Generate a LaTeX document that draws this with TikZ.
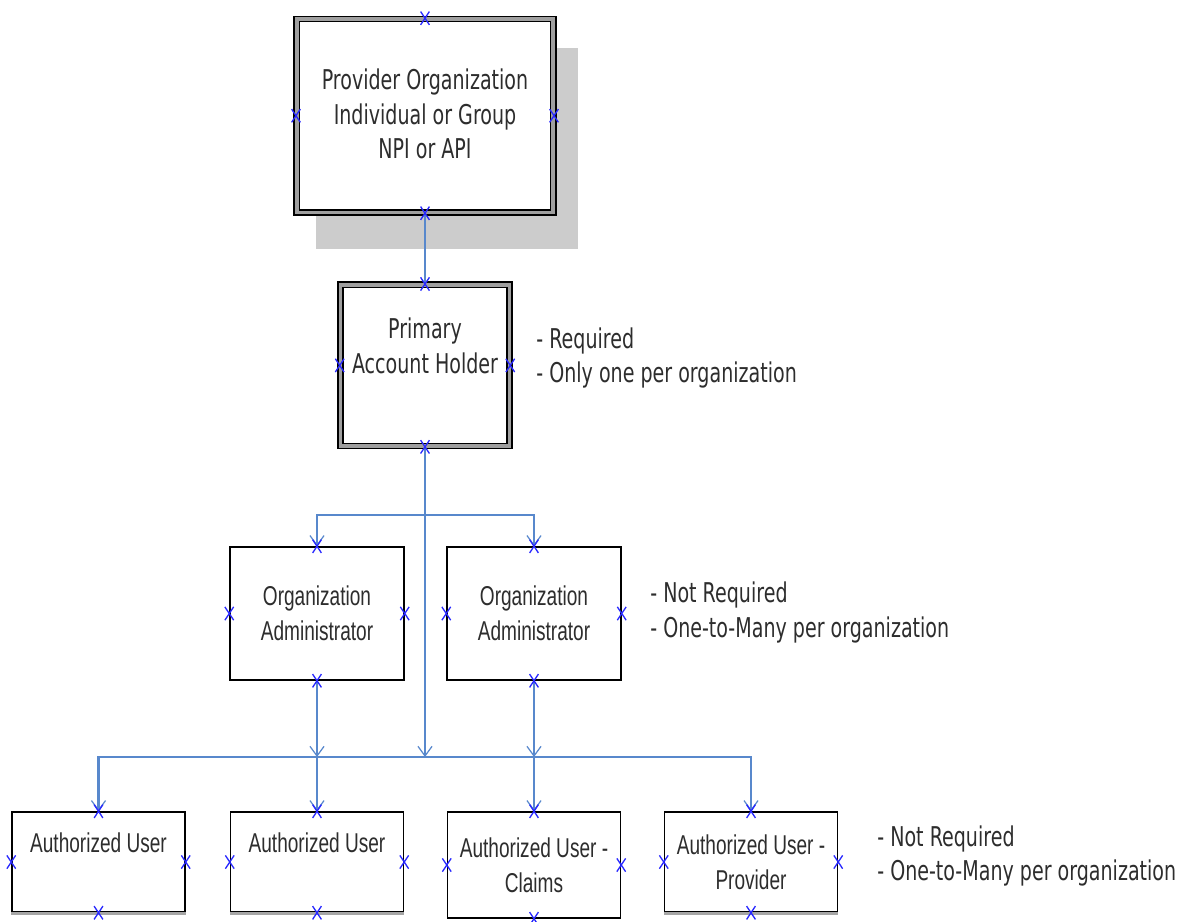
\documentclass[tikz,border=0pt]{standalone}
\usepackage{fontspec}
\usepackage{tikz}
\usetikzlibrary{positioning,arrows.meta,shapes.misc}
\newfontfamily\orgfont[FakeStretch=0.70]{DejaVu Sans}
\newfontfamily\userfont[FakeStretch=0.70]{Liberation Sans}
\definecolor{linkblue}{RGB}{88,136,204}
\definecolor{markblue}{RGB}{40,40,255}
\definecolor{inkgray}{RGB}{45,45,45}

\begin{document}
\begin{tikzpicture}[x=0.02cm,y=-0.02cm,
    dbl/.style={rectangle,draw=black,line width=0.9pt,double=gray!75,double distance=2pt,fill=white,inner sep=0pt},
    box/.style={rectangle,draw=black,line width=0.85pt,fill=white,inner sep=0pt},
    txt/.style={align=center,inner sep=0pt,text=inkgray,font=\orgfont\fontsize{15.5}{19.8}\selectfont},
    utxt/.style={align=center,inner sep=0pt,text=inkgray,font=\userfont\fontsize{15.5}{19.8}\selectfont},
    note/.style={align=left,anchor=west,inner sep=0pt,text=inkgray,font=\orgfont\fontsize{15.5}{19.8}\selectfont},
    link/.style={draw=linkblue,line width=1.2pt},
    arr/.style={-{Straight Barb[length=5.5pt,width=8pt,line width=0.7pt]}},
    cpt/.style={cross out,draw=markblue,line width=0.75pt,minimum width=0.15cm,minimum height=0.24cm,inner sep=0pt}]
        \clip (0,0) rectangle (1202,921);
        % shadow behind the organization box
        \fill[gray!40] (316,48) rectangle (578,249);
        \node[dbl,minimum width=5.13cm,minimum height=3.87cm] (prov) at (425,115.7) {};
        \node[dbl,minimum width=3.38cm,minimum height=3.226cm] (pah) at (425,365.4) {};
        \node[box,minimum width=3.48cm,minimum height=2.66cm] (oa1) at (317,613.5) {};
        \node[box,minimum width=3.48cm,minimum height=2.66cm] (oa2) at (534,613.5) {};
        \node[box,minimum width=3.46cm,minimum height=2cm] (au1) at (98.5,862) {};
        \node[box,minimum width=3.46cm,minimum height=2cm] (au2) at (317,862) {};
        \node[box,minimum width=3.46cm,minimum height=2.12cm] (au3) at (534,865) {};
        \node[box,minimum width=3.46cm,minimum height=2cm] (au4) at (751,862) {};
        \foreach \n in {au1,au2,au4}
            \draw[gray!70,line width=1.6pt] ([yshift=-0.6pt]\n.south west) -- ([yshift=-0.6pt]\n.south east);

        % box texts
        \node[txt] (provt) at (425,114) {Provider Organization\\Individual or Group\\NPI or API};
        \node[txt] (paht) at (425,345.5) {Primary\\Account Holder};
        \node[utxt] (oa1t) at (317,613) {Organization\\Administrator};
        \node[utxt] (oa2t) at (534,613) {Organization\\Administrator};
        \node[utxt] (au1t) at (98.5,843) {Authorized User};
        \node[utxt] (au2t) at (317,843) {Authorized User};
        \node[utxt] (au3t) at (534,865) {Authorized User -\\Claims};
        \node[utxt] (au4t) at (751,862) {Authorized User -\\Provider};

        % notes
        \node[note] (n1) at (536,358) {- Required\\- Only one per organization};
        \node[note] (n2) at (650,612.5) {- Not Required\\- One-to-Many per organization};
        \node[note] (n3) at (877,856) {- Not Required\\- One-to-Many per organization};

        % connectors
        \coordinate (split) at (425,515);
        \coordinate (bus) at (425,757);
        \draw[link] (prov.south) -- (pah.north);
        \draw[link,arr] (pah.south) -- (bus);
        \draw[link,arr] (split) -| (oa1.north);
        \draw[link,arr] (split) -| (oa2.north);
        \draw[link,arr] (oa1.south) -- (oa1.south |- bus);
        \draw[link,arr] (oa2.south) -- (oa2.south |- bus);
        \draw[link,arr] (bus) -| (au1.north);
        \draw[link,arr] (bus) -| (au2.north);
        \draw[link,arr] (bus) -| (au3.north);
        \draw[link,arr] (bus) -| (au4.north);

        % connection points
        \foreach \n in {prov,pah,oa1,oa2,au1,au2,au3,au4}
            \foreach \a/\s in {north/n,south/s,east/e,west/w}
                \node[cpt] (\n-\s) at (\n.\a) {};
    \end{tikzpicture}
\end{document}
